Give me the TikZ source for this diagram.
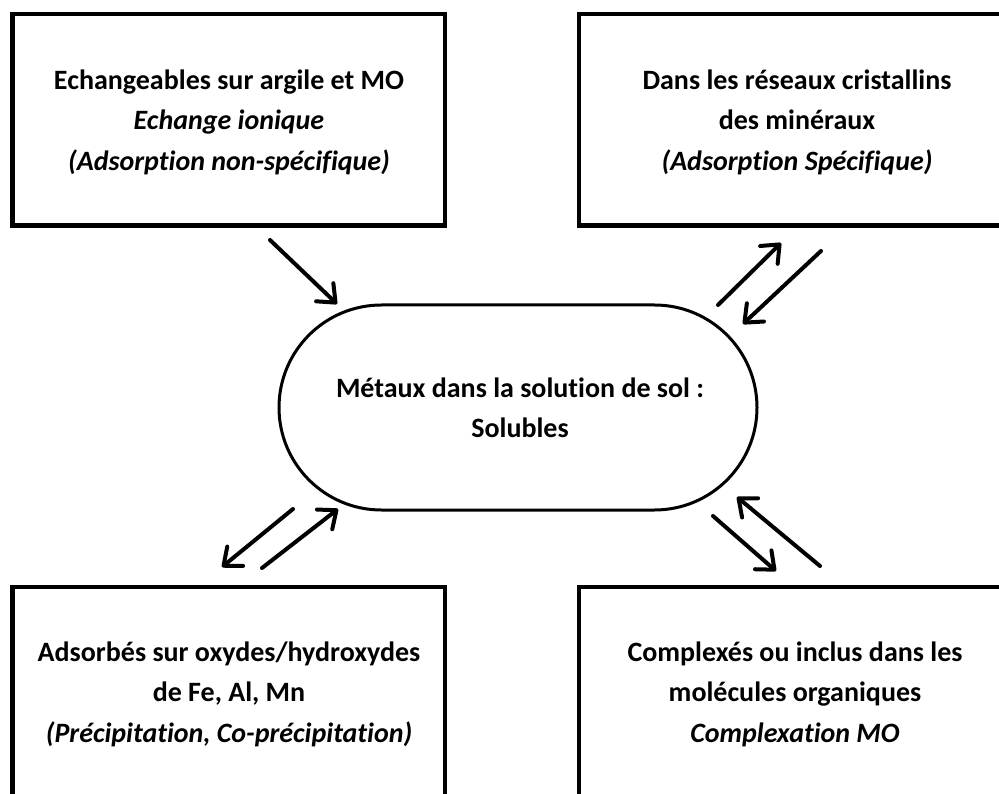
\documentclass[tikz,border=0pt]{standalone}
\usepackage{fontspec}
\setmainfont{Carlito}[Ligatures=CommonOff]
\usetikzlibrary{arrows.meta,shapes.misc}
\begin{document}
\begin{tikzpicture}[x=1pt,y=-1pt,
  boxnode/.style={draw, line width=4.5pt, rectangle, minimum width=432.5pt, minimum height=211.5pt, inner sep=0pt},
  txt/.style={align=center, font=\bfseries\fontsize{28}{40.5}\selectfont, inner sep=0pt},
  pill/.style={draw, line width=3pt, rounded rectangle, rounded rectangle arc length=180, minimum width=478pt, minimum height=205pt, inner sep=0pt},
  flow/.style={line width=4pt, line cap=round, -{Straight Barb[length=15pt,width=25pt,round]}}]
\useasboundingbox (0,0) rectangle (999,794);
\clip (0,0) rectangle (999,794);
\fill[white] (0,0) rectangle (999,794);
% boxes
\node[boxnode] (tl) at (228.75,119.75) {};
\node[boxnode] (tr) at (795.25,119.75) {};
\node[boxnode] (bl) at (228.75,692.75) {};
\node[boxnode] (br) at (795.25,692.75) {};
\node[pill] (mid) at (518,407.5) {};
% texts
\node[txt] (tlt) at (229,122) {Echangeables sur argile et MO\\ \itshape Echange ionique\\ \itshape (Adsorption non-spécifique)};
\node[txt] (trt) at (797,122) {Dans les réseaux cristallins\\ des minéraux\\ \itshape (Adsorption Spécifique)};
\node[txt] (blt) at (229,694) {Adsorbés sur oxydes/hydroxydes\\ de Fe, Al, Mn\\ \itshape (Précipitation, Co-précipitation)};
\node[txt] (brt) at (795,694) {Complexés ou inclus dans les\\ molécules organiques\\ \itshape Complexation MO};
\node[txt] (midt) at (520,408) {Métaux dans la solution de sol :\\ Solubles};
% arrow ends
\coordinate (a1s) at (270,240);  \coordinate (a1e) at (337,304);
\coordinate (a2s) at (718,305);  \coordinate (a2e) at (781,243);
\coordinate (a3s) at (821,251);  \coordinate (a3e) at (743,324);
\coordinate (a4s) at (293,509);  \coordinate (a4e) at (222,567);
\coordinate (a5s) at (262,568);  \coordinate (a5e) at (338,509);
\coordinate (a6s) at (713,516);  \coordinate (a6e) at (776,571);
\coordinate (a7s) at (820,566);  \coordinate (a7e) at (737,497);
\draw[flow] (a1s) -- (a1e);
\draw[flow] (a2s) -- (a2e);
\draw[flow] (a3s) -- (a3e);
\draw[flow] (a4s) -- (a4e);
\draw[flow] (a5s) -- (a5e);
\draw[flow] (a6s) -- (a6e);
\draw[flow] (a7s) -- (a7e);
\end{tikzpicture}
\end{document}
